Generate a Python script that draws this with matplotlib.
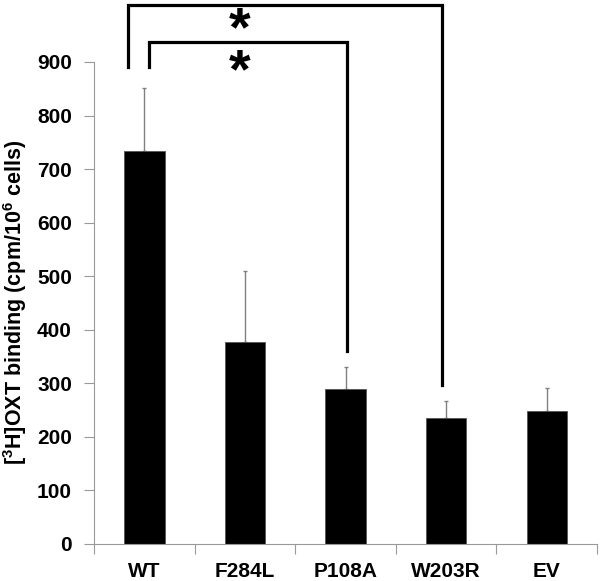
import matplotlib
matplotlib.use("Agg")
import matplotlib.pyplot as plt

plt.rcParams['font.family'] = ['Liberation Sans', 'DejaVu Sans']
plt.rcParams['font.weight'] = 'bold'
plt.rcParams['mathtext.fontset'] = 'custom'
plt.rcParams['mathtext.rm'] = 'Liberation Sans:bold'
plt.rcParams['mathtext.bf'] = 'Liberation Sans:bold'
plt.rcParams['mathtext.default'] = 'bf'

# data
groups = ["WT", "F284L", "P108A", "W203R", "EV"]
binding = [734, 378, 290, 236, 249]
sem = [117, 132, 40, 31, 42]
yticks = [0, 100, 200, 300, 400, 500, 600, 700, 800, 900]

# significance brackets: (left x, right x, top y, left leg end, right leg end)
brackets = [(-0.16, 2.96, 1007, 890, 296),
            (0.04, 2.01, 938, 890, 360)]
star_y = [931, 852]

fig = plt.figure(figsize=(6, 5.81), dpi=100)
ax = fig.add_axes([0.157, 0.0637, 0.838, 0.8296])

x = range(len(groups))
ax.bar(x, binding, width=0.4, color="black", edgecolor="#555555", linewidth=0.6, zorder=2)
ax.errorbar(x, binding, yerr=[[0] * len(sem), sem], fmt="none", ecolor="#808080",
            elinewidth=1, capsize=1.5, capthick=1, zorder=1)

ax.set_xlim(-0.5, len(groups) - 0.5)
ax.set_ylim(0, 900)
ax.set_yticks(yticks)
ax.set_yticklabels([str(v) for v in yticks], fontsize=15, fontweight="bold")
ax.set_xticks(list(x))
ax.set_xticklabels(groups, fontsize=15, fontweight="bold")
ax.set_xticks([i + 0.5 for i in range(-1, len(groups))], minor=True)
ax.tick_params(axis="x", which="major", length=0, pad=13)
ax.tick_params(axis="x", which="minor", length=7, color="#999999", width=0.8)
ax.tick_params(axis="y", length=7, color="#999999", width=0.8, pad=9)

for s in ["top", "right"]:
    ax.spines[s].set_visible(False)
for s in ["left", "bottom"]:
    ax.spines[s].set_color("#999999")
    ax.spines[s].set_linewidth(0.8)

ax.set_ylabel("[$^{3}$H]OXT binding (cpm/10$^{6}$ cells)", fontsize=15.5, fontweight="bold", labelpad=6)

for x0, x1, top, l_end, r_end in brackets:
    ax.plot([x0, x0, x1, x1], [l_end, top, top, r_end], color="black", lw=2.3,
            clip_on=False, solid_joinstyle="miter", zorder=3)

for sy in star_y:
    ax.text(0.944, sy, "*", fontsize=40, fontweight="bold", ha="center", va="baseline", clip_on=False)

fig.savefig("out.png", dpi=100)
